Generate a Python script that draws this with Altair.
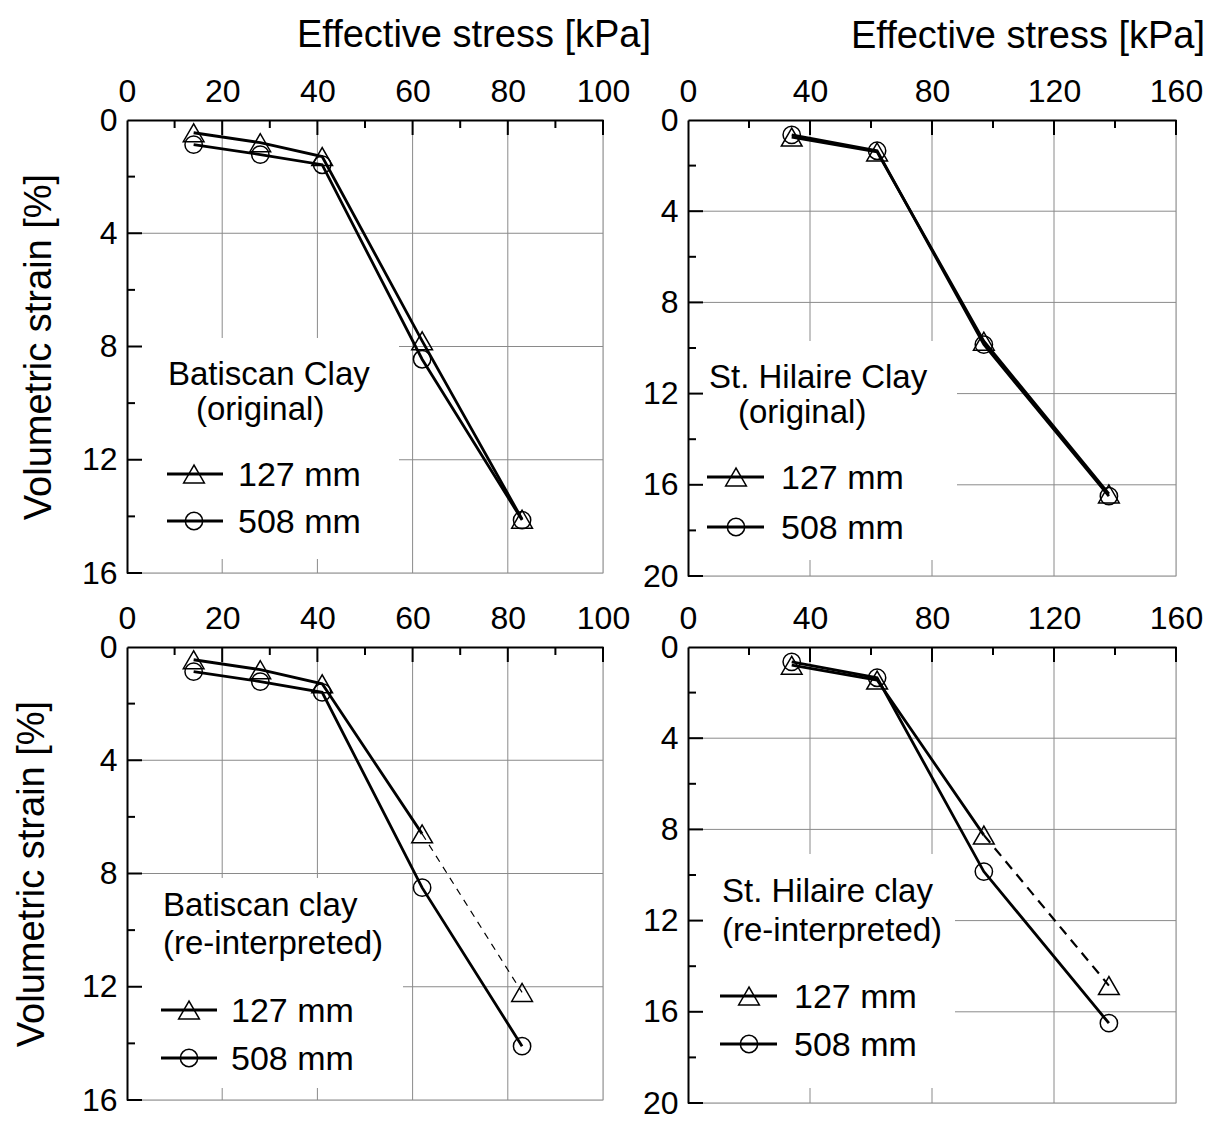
import altair as alt
import pandas as pd

# ---------------- data ----------------
series_names = ["127 mm", "508 mm"]

bat_stress = [14, 28, 41, 62, 83]
bat_orig_127 = [0.45, 0.8, 1.29, 7.8, 14.1]
bat_orig_508 = [0.87, 1.22, 1.58, 8.45, 14.13]
bat_re_127 = [0.45, 0.8, 1.3, 6.6, 12.2]
bat_re_508 = [0.87, 1.22, 1.6, 8.5, 14.1]

sth_stress = [34, 62, 97, 138]
sth_orig_127 = [0.75, 1.4, 9.7, 16.4]
sth_orig_508 = [0.65, 1.35, 9.85, 16.5]
sth_re_127 = [0.8, 1.45, 8.25, 14.85]
sth_re_508 = [0.65, 1.35, 9.85, 16.5]

bat_x_ticks = [0, 20, 40, 60, 80, 100]
bat_x_minor = [10, 30, 50, 70, 90]
sth_x_ticks = [0, 40, 80, 120, 160]
sth_x_minor = [20, 60, 100, 140]
bat_y_ticks = [0, 4, 8, 12, 16]
bat_y_minor = [2, 6, 10, 14]
sth_y_ticks = [0, 4, 8, 12, 16, 20]
sth_y_minor = [2, 6, 10, 14, 18]

x_title = "Effective stress [kPa]"
y_title = "Volumetric strain [%]"

FONT = "Liberation Sans"
GRID = "#8a8a8a"
SHAPES = ["triangle-up", "circle"]
MSIZES = [430, 300]


def panel(stress, v127, v508, xt, xm, yt, ym, w, h, texts, lay,
          dashed_from=None, dash=None, top_title=None, left_title=None):
    xdom = [xt[0], xt[-1]]
    ydom = [yt[0], yt[-1]]
    xkw = dict(orient="top", values=xt, grid=False, ticks=False, tickSize=0,
               domain=True, domainColor="black", domainWidth=2,
               labelFontSize=32, labelFont=FONT, labelColor="black",
               labelPadding=19, labelBaseline="alphabetic", labelFlush=False,
               labelOverlap=False, zindex=1)
    if top_title is not None:
        xkw.update(title=x_title, titleFontSize=38, titleFont=FONT,
                   titleFontWeight="normal", titleColor="black",
                   titleX=top_title[0], titleY=top_title[1],
                   titleAlign="center", titleBaseline="alphabetic", titleAngle=0)
    else:
        xkw.update(title=None)
    ykw = dict(orient="left", values=yt, grid=False, ticks=False, tickSize=0,
               domain=True, domainColor="black", domainWidth=2,
               labelFontSize=32, labelFont=FONT, labelColor="black",
               labelPadding=10, labelBaseline="middle", labelFlush=False,
               labelOverlap=False, zindex=1)
    if left_title is not None:
        ykw.update(title=y_title, titleFontSize=38, titleFont=FONT,
                   titleFontWeight="normal", titleColor="black",
                   titleX=left_title, titleY=h / 2, titleAngle=-90,
                   titleAlign="center", titleBaseline="alphabetic")
    else:
        ykw.update(title=None)

    X = alt.X("x:Q", scale=alt.Scale(domain=xdom, nice=False, zero=False), axis=alt.Axis(**xkw))
    Y = alt.Y("y:Q", scale=alt.Scale(domain=ydom, reverse=True, nice=False, zero=False),
              axis=alt.Axis(**ykw))

    one = alt.Data(values=[{}])
    layers = []
    # grid (right / bottom borders are grid lines too)
    layers.append(alt.Chart(pd.DataFrame({"x": xt[1:]})).mark_rule(color=GRID, strokeWidth=1).encode(x=X))
    layers.append(alt.Chart(pd.DataFrame({"y": yt[1:]})).mark_rule(color=GRID, strokeWidth=1).encode(y=Y))
    # white box behind the annotation
    bx = lay["box"]
    layers.append(alt.Chart(one).mark_rect(color="white").encode(
        x=alt.value(bx[0]), x2=alt.value(bx[1]), y=alt.value(bx[2]), y2=alt.value(bx[3])))
    # inward ticks
    layers.append(alt.Chart(pd.DataFrame({"x": xm})).mark_rule(color="black", strokeWidth=2).encode(
        x=X, y=alt.value(0), y2=alt.value(8)))
    layers.append(alt.Chart(pd.DataFrame({"x": xt[1:]})).mark_rule(color="black", strokeWidth=2).encode(
        x=X, y=alt.value(0), y2=alt.value(15)))
    layers.append(alt.Chart(pd.DataFrame({"y": ym})).mark_rule(color="black", strokeWidth=2).encode(
        y=Y, x=alt.value(0), x2=alt.value(8)))
    layers.append(alt.Chart(pd.DataFrame({"y": yt[1:]})).mark_rule(color="black", strokeWidth=2).encode(
        y=Y, x=alt.value(0), x2=alt.value(15)))

    pts = pd.DataFrame({
        "x": list(stress) + list(stress),
        "y": list(v127) + list(v508),
        "series": [series_names[0]] * len(stress) + [series_names[1]] * len(stress),
    })
    if dashed_from is None:
        solid = pts
    else:
        keep = (pts["series"] == series_names[1]) | (pts["x"] <= stress[dashed_from])
        solid = pts[keep]
        dpart = pts[(pts["series"] == series_names[0]) & (pts["x"] >= stress[dashed_from])]
        layers.append(alt.Chart(dpart).mark_line(color="black", strokeWidth=dash[0],
                                                 strokeDash=dash[1]).encode(x=X, y=Y))
    layers.append(alt.Chart(solid).mark_line(color="black", strokeWidth=2.8).encode(
        x=X, y=Y, detail="series:N"))
    layers.append(alt.Chart(pts).mark_point(filled=False, strokeWidth=1.5, color="black",
                                            opacity=1).encode(
        x=X, y=Y,
        shape=alt.Shape("series:N", scale=alt.Scale(domain=series_names, range=SHAPES), legend=None),
        size=alt.Size("series:N", scale=alt.Scale(domain=series_names, range=MSIZES), legend=None)))

    # annotation
    for (tx, ty), t in zip(lay["ann"], texts):
        layers.append(alt.Chart(one).mark_text(align="left", baseline="alphabetic", fontSize=33,
                                               font=FONT, color="black").encode(
            x=alt.value(tx), y=alt.value(ty), text=alt.value(t)))
    # manual legend
    lx1, lx2, mx, tx = lay["leg_x"]
    for ly, name, shp, sz in zip(lay["leg_y"], series_names, SHAPES, MSIZES):
        layers.append(alt.Chart(one).mark_rule(color="black", strokeWidth=3).encode(
            x=alt.value(lx1), x2=alt.value(lx2), y=alt.value(ly)))
        layers.append(alt.Chart(one).mark_point(shape=shp, filled=False, size=sz, strokeWidth=1.5,
                                                color="black", opacity=1).encode(
            x=alt.value(mx), y=alt.value(ly)))
        layers.append(alt.Chart(one).mark_text(align="left", baseline="alphabetic", fontSize=34,
                                               font=FONT, color="black").encode(
            x=alt.value(tx), y=alt.value(ly + 12), text=alt.value(name)))

    return alt.layer(*layers).properties(width=w, height=h)


tl = panel(bat_stress, bat_orig_127, bat_orig_508, bat_x_ticks, bat_x_minor, bat_y_ticks, bat_y_minor,
           476, 453, ["Batiscan Clay", "(original)"],
           {"box": (0, 272, 218, 439), "ann": [(41, 265), (69, 300)],
            "leg_y": [354, 401], "leg_x": (40, 96, 67, 111)},
           top_title=(346.5, -74), left_title=-77)
tr = panel(sth_stress, sth_orig_127, sth_orig_508, sth_x_ticks, sth_x_minor, sth_y_ticks, sth_y_minor,
           488, 456, ["St. Hilaire Clay", "(original)"],
           {"box": (0, 269, 221, 440), "ann": [(21, 268), (50, 303)],
            "leg_y": [357, 407], "leg_x": (19, 76, 48, 93)},
           top_title=(339.5, -73))
bl = panel(bat_stress, bat_re_127, bat_re_508, bat_x_ticks, bat_x_minor, bat_y_ticks, bat_y_minor,
           476, 453, ["Batiscan clay", "(re-interpreted)"],
           {"box": (0, 276, 231, 441), "ann": [(36, 269), (36, 307)],
            "leg_y": [363, 411], "leg_x": (34, 90, 62, 104)},
           dashed_from=3, dash=(1.2, [7, 6]), left_title=-84)
br = panel(sth_stress, sth_re_127, sth_re_508, sth_x_ticks, sth_x_minor, sth_y_ticks, sth_y_minor,
           488, 456, ["St. Hilaire clay", "(re-interpreted)"],
           {"box": (0, 267, 207, 441), "ann": [(34, 255), (34, 294)],
            "leg_y": [349, 397], "leg_x": (32, 89, 61, 106)},
           dashed_from=2, dash=(2.2, [10, 7]))

chart = alt.concat(tl, tr, bl, br, columns=2).properties(
    spacing={"row": 71, "column": 85}, bounds="flush", align="each",
    padding={"left": 12, "top": 15, "right": 0, "bottom": 0},
    background="white",
).configure_view(stroke=None).configure(font=FONT)

chart.save("out.html", embed_options={"renderer": "svg", "actions": False})
